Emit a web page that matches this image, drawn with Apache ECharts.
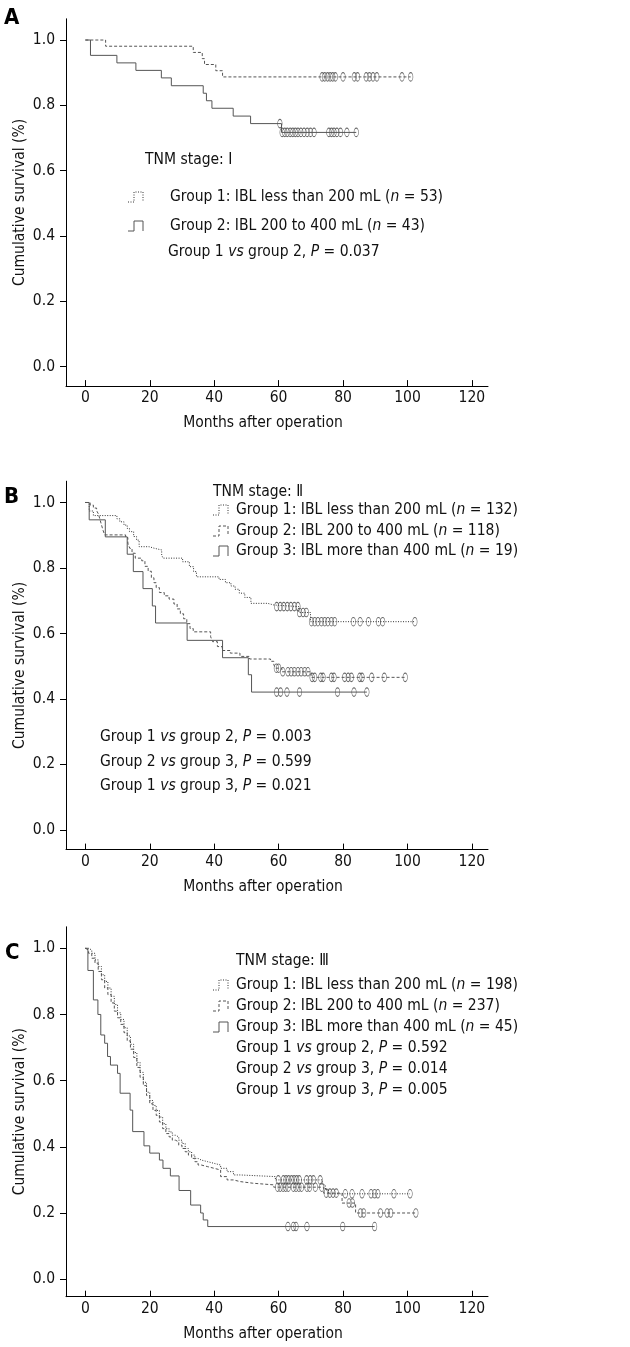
<!DOCTYPE html>
<html>
<head>
<meta charset="utf-8">
<script src="https://cdn.jsdelivr.net/npm/echarts@6/dist/echarts.min.js"></script>
<style>
html, body { margin: 0; padding: 0; background: #fff; }
#main { width: 630px; height: 1347px; }
</style>
</head>
<body>
<div id="main"></div>
<script>
// tick labels
var xTicks = [0, 20, 40, 60, 80, 100, 120]
var yTicks = [0, 0.2, 0.4, 0.6, 0.8, 1.0]

// Panel A - TNM stage I   ([month, survival] at each event, censored months)
var aG1Steps = [[0, 1], [6.3, 0.981], [33.5, 0.962], [36.3, 0.943], [37, 0.925], [40.5, 0.906], [42.6, 0.887]]
var aG1Cens = [73.5, 74.3, 75.2, 76.0, 76.8, 77.6, 80.0, 83.5, 84.5, 87.2, 88.2, 89.3, 90.5, 98.3, 101.0]
var aG2Steps = [[0, 1], [1.6, 0.953], [9.8, 0.930], [15.7, 0.907], [23.6, 0.884], [26.7, 0.860], [36.6, 0.837], [37.6, 0.814], [39.3, 0.791], [45.9, 0.767], [51.3, 0.744], [60.9, 0.717]]
var aG2Cens = [60.4, 61.1, 61.9, 62.7, 63.6, 64.4, 65.2, 66.0, 66.9, 67.9, 68.9, 69.9, 71.0, 75.6, 76.4, 77.2, 78.1, 79.2, 81.2, 84.1]

// Panel B - TNM stage II
var bG1Steps = [[0, 1], [1.2, 0.974], [2.5, 0.96], [9.8, 0.95], [10.7, 0.941], [12, 0.931], [13, 0.921], [13.7, 0.911], [15, 0.896], [15.9, 0.885], [16.7, 0.865], [19.8, 0.86], [21.5, 0.855], [23.7, 0.84], [24.1, 0.83], [30.2, 0.819], [32.3, 0.804], [33.6, 0.789], [34.5, 0.773], [41.5, 0.765], [43.5, 0.755], [45.2, 0.745], [46.5, 0.735], [47.8, 0.723], [49.5, 0.71], [51.4, 0.692], [56.6, 0.687], [58.5, 0.682], [66.3, 0.664], [69.9, 0.636]]
var bG1Cens = [59.4, 60.5, 61.6, 62.7, 63.8, 64.9, 66.0, 66.5, 67.6, 68.6, 70.2, 71.2, 72.2, 73.3, 74.3, 75.3, 76.4, 77.4, 83.2, 85.3, 87.9, 91.0, 92.3, 102.3]
var bG2Steps = [[0, 1], [1.5, 0.992], [2.5, 0.983], [3.5, 0.975], [4, 0.966], [4.5, 0.95], [5, 0.932], [5.5, 0.915], [6, 0.901], [12.5, 0.893], [13.2, 0.876], [13.8, 0.86], [14.5, 0.845], [15.5, 0.83], [17.5, 0.822], [18.5, 0.805], [19.5, 0.79], [20.5, 0.77], [21.3, 0.755], [22, 0.74], [23, 0.725], [24.5, 0.715], [26, 0.705], [27.5, 0.69], [28.5, 0.675], [29.5, 0.66], [30.5, 0.645], [31.5, 0.63], [32.5, 0.615], [33.5, 0.605], [38.9, 0.59], [39.5, 0.575], [41, 0.56], [42.5, 0.548], [45, 0.54], [48, 0.53], [51, 0.522], [57.5, 0.515], [58.5, 0.505], [59, 0.494], [61, 0.483], [70.1, 0.466]]
var bG2Cens = [59.3, 60.0, 61.3, 62.9, 63.9, 64.9, 66.0, 67.0, 68.1, 69.1, 70.4, 71.2, 73.1, 73.8, 76.4, 77.2, 80.5, 81.6, 82.6, 85.2, 85.9, 88.9, 92.8, 99.3]
var bG3Steps = [[0, 1], [1.2, 0.947], [6.2, 0.895], [13, 0.842], [14.9, 0.789], [17.9, 0.737], [20.8, 0.684], [21.8, 0.632], [31.6, 0.579], [42.6, 0.526], [50.6, 0.474], [51.6, 0.421]]
var bG3Cens = [59.4, 60.6, 62.6, 66.5, 78.3, 83.4, 87.4]

// Panel C - TNM stage III
var cG1Steps = [[0, 1], [1, 0.995], [2, 0.985], [3, 0.965], [4, 0.945], [5, 0.92], [6, 0.9], [7, 0.88], [8, 0.855], [9, 0.83], [10, 0.805], [11, 0.785], [12, 0.76], [13, 0.735], [14, 0.71], [15, 0.685], [16, 0.655], [17, 0.625], [18, 0.595], [19, 0.565], [20, 0.54], [21, 0.525], [22, 0.51], [23, 0.49], [24, 0.47], [25, 0.455], [26, 0.445], [27, 0.435], [28, 0.43], [29, 0.42], [30, 0.41], [31, 0.395], [32, 0.385], [33, 0.375], [34, 0.365], [35, 0.36], [36, 0.355], [38, 0.35], [40, 0.345], [42, 0.335], [44, 0.325], [46, 0.315], [48, 0.31], [59, 0.3], [73.5, 0.285], [74.5, 0.27], [75.5, 0.258]]
var cG1Cens = [59.9, 61.5, 62.3, 63.1, 64.0, 64.8, 65.6, 66.4, 68.7, 69.8, 70.8, 72.9, 80.7, 82.8, 85.9, 88.7, 89.8, 90.8, 95.8, 100.8]
var cG2Steps = [[0, 1], [0.5, 0.995], [1, 0.985], [2, 0.97], [3, 0.955], [4, 0.93], [5, 0.905], [6, 0.88], [7, 0.86], [8, 0.835], [9, 0.81], [10, 0.79], [11, 0.77], [12, 0.745], [13, 0.72], [14, 0.695], [15, 0.67], [16, 0.64], [17, 0.61], [18, 0.585], [19, 0.555], [20, 0.53], [21, 0.51], [22, 0.495], [23, 0.475], [24, 0.455], [25, 0.44], [26, 0.43], [27, 0.42], [28, 0.415], [29, 0.405], [30, 0.395], [31, 0.385], [32, 0.375], [33, 0.365], [34, 0.355], [35, 0.345], [36, 0.34], [38, 0.335], [40, 0.33], [42, 0.31], [44, 0.3], [46, 0.295], [48, 0.29], [52, 0.285], [58.5, 0.278], [74, 0.26], [79.7, 0.23], [83.9, 0.2]]
var cG2Cens = [59.7, 60.5, 61.4, 62.2, 63.0, 64.6, 65.4, 66.3, 67.1, 68.8, 69.6, 71.4, 73.4, 74.8, 75.9, 76.9, 77.9, 81.9, 82.9, 85.4, 86.4, 91.6, 93.7, 94.8, 102.6]
var cG3Steps = [[0, 1], [0.8, 0.933], [2.5, 0.844], [3.9, 0.8], [4.8, 0.738], [6.0, 0.713], [6.9, 0.673], [7.8, 0.647], [10.0, 0.622], [10.8, 0.562], [13.9, 0.511], [14.7, 0.446], [18.2, 0.403], [20.0, 0.381], [23.0, 0.36], [24.1, 0.335], [26.4, 0.312], [29.1, 0.268], [32.7, 0.224], [35.8, 0.2], [36.6, 0.179], [38, 0.159]]
var cG3Cens = [62.9, 64.6, 65.4, 68.8, 79.9, 89.8]

// texts
var stageLabels = ['TNM stage: \u2160', 'TNM stage: \u2161', 'TNM stage: \u2162']
var groupLabelsA = ['{t|Group 1: IBL less than 200 mL (}{i|n}{t| = 53)}', '{t|Group 2: IBL 200 to 400 mL (}{i|n}{t| = 43)}']
var groupLabelsB = ['{t|Group 1: IBL less than 200 mL (}{i|n}{t| = 132)}', '{t|Group 2: IBL 200 to 400 mL (}{i|n}{t| = 118)}', '{t|Group 3: IBL more than 400 mL (}{i|n}{t| = 19)}']
var groupLabelsC = ['{t|Group 1: IBL less than 200 mL (}{i|n}{t| = 198)}', '{t|Group 2: IBL 200 to 400 mL (}{i|n}{t| = 237)}', '{t|Group 3: IBL more than 400 mL (}{i|n}{t| = 45)}']
var pLabelsA = ['{t|Group 1 }{i|vs}{t| group 2, }{i|P}{t| = 0.037}']
var pLabelsB = ['{t|Group 1 }{i|vs}{t| group 2, }{i|P}{t| = 0.003}', '{t|Group 2 }{i|vs}{t| group 3, }{i|P}{t| = 0.599}', '{t|Group 1 }{i|vs}{t| group 3, }{i|P}{t| = 0.021}']
var pLabelsC = ['{t|Group 1 }{i|vs}{t| group 2, }{i|P}{t| = 0.592}', '{t|Group 2 }{i|vs}{t| group 3, }{i|P}{t| = 0.014}', '{t|Group 1 }{i|vs}{t| group 3, }{i|P}{t| = 0.005}']

var FONT = "'DejaVu Sans Condensed', 'DejaVu Sans', sans-serif"
var FS = 15.5
var INK = '#111'

// survival level at time t (step function)
function levelAt(steps, t) {
    var v = steps[0][1]
    for (var i = 0; i < steps.length; i++) {
        if (steps[i][0] <= t) v = steps[i][1]
    }
    return v
}
function curve(steps, cens) {
    var last = steps[steps.length - 1]
    var end = Math.max(last[0], cens[cens.length - 1])
    return steps.concat([[end, last[1]]])
}
function censPts(steps, cens) {
    return cens.map(function (t) { return [t, levelAt(steps, t)] })
}

var ellipse = 'path://M50,0 A50,50 0 1,1 50,100 A50,50 0 1,1 50,0 Z'
var styles = {
    dotted: {color: '#333', width: 1, type: [1, 1.5]},
    dashed: {color: '#555', width: 1, type: [3, 2]},
    solid: {color: '#555', width: 1, type: 'solid'}
}

var panels = [
    {top: 18.8, height: 367.3, ymin: -0.06, curves: [[aG1Steps, aG1Cens, 'dashed'], [aG2Steps, aG2Cens, 'solid']]},
    {top: 481.2, height: 368.4, ymin: -0.06, curves: [[bG1Steps, bG1Cens, 'dotted'], [bG2Steps, bG2Cens, 'dashed'], [bG3Steps, bG3Cens, 'solid']]},
    {top: 926.8, height: 369.9, ymin: -0.053, curves: [[cG1Steps, cG1Cens, 'dotted'], [cG2Steps, cG2Cens, 'dashed'], [cG3Steps, cG3Cens, 'solid']]}
]

var grid = [], xAxis = [], yAxis = [], series = []
panels.forEach(function (p, i) {
    grid.push({left: 66, width: 422, top: p.top, height: p.height, containLabel: false, outerBoundsMode: 'none'})
    xAxis.push({
        type: 'value', gridIndex: i, min: -6, max: 125,
        name: 'Months after operation', nameLocation: 'middle', nameGap: 29, nameMoveOverlap: false,
        nameTextStyle: {fontFamily: FONT, fontSize: FS, color: INK, padding: [0, 28, 0, 0]},
        axisLine: {onZero: false, lineStyle: {color: '#000', width: 1}},
        axisTick: {inside: true, length: 6, lineStyle: {color: '#000'}, customValues: xTicks},
        axisLabel: {margin: 4, fontFamily: FONT, fontSize: FS, color: INK, customValues: xTicks},
        splitLine: {show: false}
    })
    yAxis.push({
        type: 'value', gridIndex: i, min: p.ymin, max: 1.065,
        name: 'Cumulative survival (%)', nameLocation: 'middle', nameGap: 38, nameRotate: 90, nameMoveOverlap: false,
        nameTextStyle: {fontFamily: FONT, fontSize: FS, color: INK},
        axisLine: {onZero: false, lineStyle: {color: '#000', width: 1}},
        axisTick: {inside: false, length: 6, lineStyle: {color: '#000'}, customValues: yTicks},
        axisLabel: {margin: 11, fontFamily: FONT, fontSize: FS, color: INK, customValues: yTicks,
            formatter: function (v) { return v.toFixed(1) }},
        splitLine: {show: false}
    })
    p.curves.forEach(function (c) {
        var ls = styles[c[2]]
        series.push({
            type: 'line', xAxisIndex: i, yAxisIndex: i, step: 'end',
            showSymbol: false, silent: true,
            lineStyle: {color: ls.color, width: ls.width, type: ls.type},
            data: curve(c[0], c[1])
        })
        series.push({
            type: 'scatter', xAxisIndex: i, yAxisIndex: i, silent: true,
            symbol: ellipse, symbolSize: [4.5, 8.5],
            itemStyle: {color: 'rgba(0,0,0,0)', borderColor: '#444', borderWidth: 0.8},
            data: censPts(c[0], c[1])
        })
    })
})

// text and legend pieces
var rich = {
    t: {fontFamily: FONT, fontSize: FS, fill: INK},
    i: {fontFamily: FONT, fontSize: FS, fill: INK, fontStyle: 'italic'}
}
var graphic = []
function txt(x, y, s) {
    graphic.push({type: 'text', x: x, y: y, style: {text: s, rich: rich, fontFamily: FONT, fontSize: FS, fill: INK, verticalAlign: 'middle'}})
}
function icon(x, y, kind) {
    var ls = styles[kind]
    graphic.push({type: 'polyline', shape: {points: [[x, y + 5], [x + 6, y + 5], [x + 6, y - 5], [x + 15, y - 5], [x + 15, y + 5]]},
        style: {stroke: ls.color, lineWidth: 1, fill: null, lineDash: ls.type === 'solid' ? null : ls.type}})
}
function letter(x, y, s) {
    graphic.push({type: 'text', x: x, y: y, style: {text: s, fontFamily: FONT, fontSize: 22, fontWeight: 'bold', fill: '#000', verticalAlign: 'middle'}})
}

letter(4, 18, 'A')
txt(145, 160, stageLabels[0])
icon(128, 197, 'dotted'); txt(170, 197, groupLabelsA[0])
icon(128, 226, 'solid'); txt(170, 226, groupLabelsA[1])
txt(168, 252, pLabelsA[0])

letter(4, 497, 'B')
txt(213, 492, stageLabels[1])
var bKinds = ['dotted', 'dashed', 'solid']
var bRows = [510, 531, 551]
bRows.forEach(function (y, k) { icon(213, y, bKinds[k]); txt(236, y, groupLabelsB[k]) })
var bP = [737, 762, 786]
bP.forEach(function (y, k) { txt(100, y, pLabelsB[k]) })

letter(5, 953, 'C')
txt(236, 961, stageLabels[2])
var cRows = [985, 1006, 1027]
cRows.forEach(function (y, k) { icon(213, y, bKinds[k]); txt(236, y, groupLabelsC[k]) })
var cP = [1048, 1069, 1090]
cP.forEach(function (y, k) { txt(236, y, pLabelsC[k]) })

var chart = echarts.init(document.getElementById('main'))
chart.setOption({
    animation: false,
    backgroundColor: '#fff',
    grid: grid,
    xAxis: xAxis,
    yAxis: yAxis,
    series: series,
    graphic: graphic
})
</script>
</body>
</html>
